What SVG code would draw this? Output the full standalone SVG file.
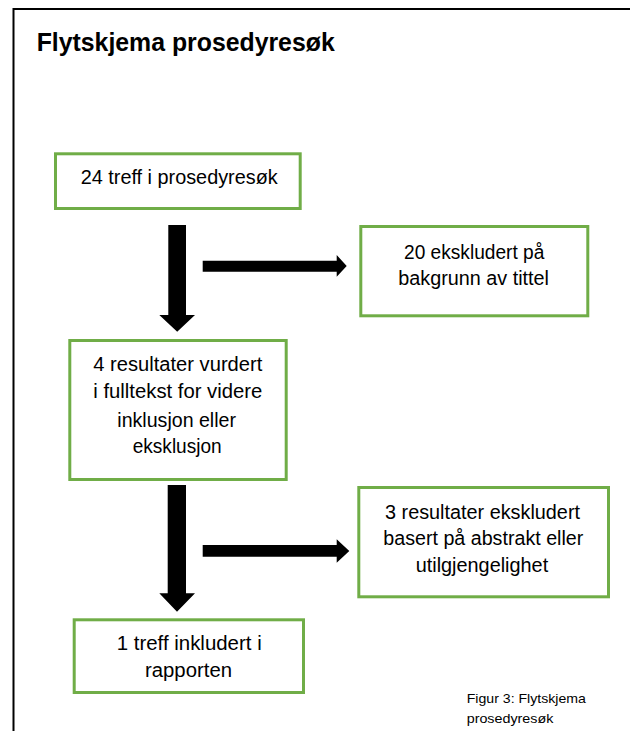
<svg xmlns="http://www.w3.org/2000/svg" width="630" height="731" viewBox="0 0 630 731">
<style>
.box{fill:#ffffff;stroke:#70AD47;stroke-width:3}
.t{font-family:"Liberation Sans",Arial,sans-serif;font-size:19.5px;fill:#000000}
.title{font-family:"Liberation Sans",Arial,sans-serif;font-size:26px;font-weight:bold;fill:#000000}
.cap{font-family:"Liberation Sans",Arial,sans-serif;font-size:13px;fill:#000000}
.arrow{fill:#000000}
</style>
<rect x="0" y="0" width="630" height="731" fill="#ffffff"/>
<path d="M13.5,731 V9 H630" fill="none" stroke="#000000" stroke-width="2"/>
<text class="title" x="36.7" y="50.7" textLength="298" lengthAdjust="spacingAndGlyphs">Flytskjema prosedyresøk</text>
<g id="node-24-treff">
<rect class="box" x="55.5" y="153.8" width="244.7" height="54.7"/>
<text class="t" x="80.7" y="184.3" textLength="197" lengthAdjust="spacingAndGlyphs">24 treff i prosedyresøk</text>
</g>
<g id="node-20-ekskludert">
<rect class="box" x="360.8" y="226.5" width="227" height="89.3"/>
<text class="t" x="404" y="259.3" textLength="140.3" lengthAdjust="spacingAndGlyphs">20 ekskludert på</text>
<text class="t" x="398.3" y="284.8" textLength="150.7" lengthAdjust="spacingAndGlyphs">bakgrunn av tittel</text>
</g>
<g id="node-4-resultater">
<rect class="box" x="69.8" y="340.5" width="216.4" height="139"/>
<text class="t" x="93.3" y="370.7" textLength="169" lengthAdjust="spacingAndGlyphs">4 resultater vurdert</text>
<text class="t" x="93.3" y="398.3" textLength="169" lengthAdjust="spacingAndGlyphs">i fulltekst for videre</text>
<text class="t" x="117.3" y="426.7" textLength="118.7" lengthAdjust="spacingAndGlyphs">inklusjon eller</text>
<text class="t" x="132.7" y="453.3" textLength="89" lengthAdjust="spacingAndGlyphs">eksklusjon</text>
</g>
<g id="node-3-resultater">
<rect class="box" x="358.8" y="487.5" width="249.7" height="109.3"/>
<text class="t" x="385" y="519.3" textLength="195" lengthAdjust="spacingAndGlyphs">3 resultater ekskludert</text>
<text class="t" x="383.3" y="545.3" textLength="200" lengthAdjust="spacingAndGlyphs">basert på abstrakt eller</text>
<text class="t" x="415.7" y="572" textLength="132.5" lengthAdjust="spacingAndGlyphs">utilgjengelighet</text>
</g>
<g id="node-1-treff">
<rect class="box" x="74.2" y="619.8" width="229.3" height="72.7"/>
<text class="t" x="116.7" y="650" textLength="145" lengthAdjust="spacingAndGlyphs">1 treff inkludert i</text>
<text class="t" x="145" y="676.7" textLength="87" lengthAdjust="spacingAndGlyphs">rapporten</text>
</g>
<g id="connectors">
<polygon class="arrow" points="168.3,225 186,225 186,315 195,315 177.2,331.7 159.3,315 168.3,315"/>
<polygon class="arrow" points="202.7,260.7 336.7,260.7 336.7,255 346.7,266 336.7,276.7 336.7,271.7 202.7,271.7"/>
<polygon class="arrow" points="167.7,485 186,485 186,593.3 195,593.3 177,611.7 159.3,593.3 167.7,593.3"/>
<polygon class="arrow" points="202.7,545 336.7,545 336.7,539.3 349.3,551 336.7,562.7 336.7,556.7 202.7,556.7"/>
</g>
<text class="cap" x="466.7" y="703.3" textLength="119.3" lengthAdjust="spacingAndGlyphs">Figur 3: Flytskjema</text>
<text class="cap" x="466.7" y="723.3" textLength="86.6" lengthAdjust="spacingAndGlyphs">prosedyresøk</text>
</svg>
